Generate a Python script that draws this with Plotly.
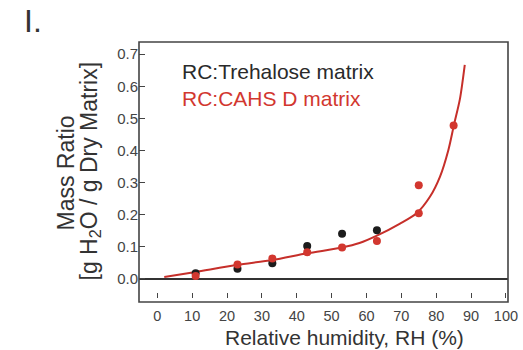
import plotly.graph_objects as go

# Relative humidity (%) and water uptake (g H2O / g dry matrix)
rh_trehalose = [11, 23, 33, 43, 53, 63]
mass_trehalose = [0.018, 0.032, 0.049, 0.103, 0.141, 0.152]

rh_cahs = [11, 23, 33, 43, 53, 63, 75, 75, 85]
mass_cahs = [0.009, 0.045, 0.064, 0.083, 0.098, 0.118, 0.292, 0.205, 0.478]

# Fitted sorption isotherm for the CAHS D matrix
rh_fit = [2, 11, 23, 33, 43, 53, 58, 63, 69.5, 74.4, 78.2, 81.1, 83.5, 85.1, 86.8, 88.2]
mass_fit = [0.006, 0.022, 0.044, 0.059, 0.080, 0.098, 0.112, 0.135, 0.172, 0.205,
            0.256, 0.319, 0.402, 0.480, 0.560, 0.667]

x_ticks = list(range(0, 101, 10))
y_ticks = [0.0, 0.1, 0.2, 0.3, 0.4, 0.5, 0.6, 0.7]

FONT = "Liberation Sans, Arial, sans-serif"
RED = "#d2372f"
CURVE = "#c62f2a"
BLACK = "#1c1c1c"

fig = go.Figure()
fig.add_trace(go.Scatter(x=rh_fit, y=mass_fit, mode="lines",
                         line=dict(color=CURVE, width=2, shape="spline", smoothing=0.8),
                         showlegend=False, hoverinfo="skip"))
fig.add_trace(go.Scatter(x=rh_trehalose, y=mass_trehalose, mode="markers",
                         marker=dict(color=BLACK, size=8), showlegend=False))
fig.add_trace(go.Scatter(x=rh_cahs, y=mass_cahs, mode="markers",
                         marker=dict(color=RED, size=8), showlegend=False))

fig.update_xaxes(range=[-5.25, 100.6], tickvals=x_ticks, ticks="inside", ticklen=5,
                 tickcolor="#444", tickwidth=1.3, showgrid=False, zeroline=False,
                 showline=False, ticklabelstandoff=7, automargin=False,
                 tickfont=dict(family=FONT, size=14.5, color="#444"))
fig.update_yaxes(range=[-0.0592, 0.738], tickvals=y_ticks, tickformat=".1f",
                 ticks="inside", ticklen=6, tickcolor="#444", tickwidth=1.3,
                 showgrid=False, showline=False, zeroline=True, zerolinecolor="#333",
                 zerolinewidth=1.5, automargin=False,
                 tickfont=dict(family=FONT, size=15, color="#444"))

# Frame around the plotting area (extends slightly below the tick row)
fig.add_shape(type="rect", xref="paper", yref="paper", x0=0, x1=1, y0=-0.0156, y1=1,
              line=dict(color="#444", width=1.6))

# Panel label and axis titles, placed in pixel terms of the 523x350 page
annotations = [
    dict(text="I.", x=33, y=21, size=32),
    dict(text="Mass Ratio", x=65, y=173.5, angle=-90, size=23),
    dict(text="[g H<sub>2</sub>O / g Dry Matrix]", x=90, y=171.5, angle=-90, size=23),
    dict(text="Relative humidity, RH (%)", x=344.5, y=337.5, size=21),
]
for a in annotations:
    fig.add_annotation(text=a["text"], xref="paper", yref="paper",
                       x=(a["x"] - 139) / 369, y=1 - (a["y"] - 42) / 256,
                       xanchor="center", yanchor="middle", showarrow=False,
                       textangle=a.get("angle", 0),
                       font=dict(family=FONT, size=a["size"], color="#333"))

fig.add_annotation(text="RC:Trehalose matrix", xref="paper", yref="paper",
                   x=(180 - 139) / 369, y=1 - (71 - 42) / 256, xanchor="left",
                   yanchor="middle", showarrow=False,
                   font=dict(family=FONT, size=21, color="#2a2a2a"))
fig.add_annotation(text="RC:CAHS D matrix", xref="paper", yref="paper",
                   x=(180 - 139) / 369, y=1 - (98 - 42) / 256, xanchor="left",
                   yanchor="middle", showarrow=False,
                   font=dict(family=FONT, size=21, color=RED))

fig.update_layout(width=523, height=350, margin=dict(l=139, r=15, t=42, b=52),
                  plot_bgcolor="white", paper_bgcolor="white")

fig.write_html("out.html")
